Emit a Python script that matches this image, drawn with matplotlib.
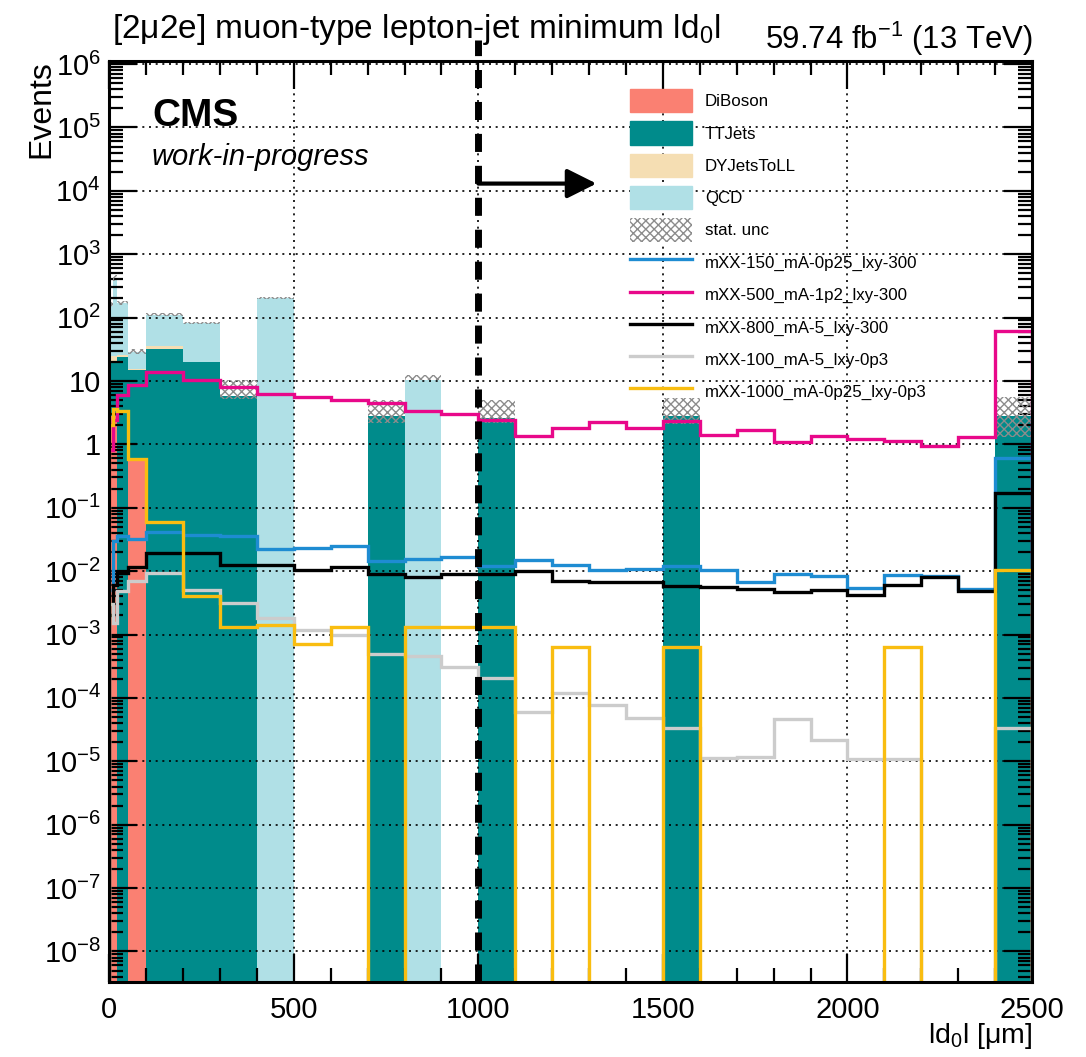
import numpy as np
import matplotlib
matplotlib.use("Agg")
import matplotlib.pyplot as plt
from matplotlib.patches import Patch
from matplotlib.lines import Line2D
from matplotlib.ticker import FixedLocator, FixedFormatter, NullFormatter

plt.rcParams['font.family'] = ['Liberation Sans', 'DejaVu Sans']
plt.rcParams['mathtext.fontset'] = 'custom'
plt.rcParams['mathtext.rm'] = 'Liberation Sans'
plt.rcParams['mathtext.it'] = 'Liberation Sans:italic'
plt.rcParams['mathtext.bf'] = 'Liberation Sans:bold'
plt.rcParams['hatch.linewidth'] = 1.0

# binning in |d0| [um]
bin_edges = [0, 10, 20, 50, 100, 200, 300, 400, 500, 600, 700, 800, 900, 1000,
             1100, 1200, 1300, 1400, 1500, 1600, 1700, 1800, 1900, 2000, 2100,
             2200, 2300, 2400, 2500]

# backgrounds (stacked, bottom -> top)
diboson = [2.8, 2.8, 0, 0.57, 0, 0, 0, 0, 0, 0, 0, 0, 0, 0,
           0, 0, 0, 0, 0, 0, 0, 0, 0, 0, 0, 0, 0, 0]
ttjets = [18, 18, 24, 14.4, 32, 20, 5.8, 0, 0, 0, 2.8, 0, 0, 2.6,
          0, 0, 0, 0, 2.8, 0, 0, 0, 0, 0, 0, 0, 0, 2.85]
dyjets = [4, 4, 2, 0.3, 3, 0, 0, 0, 0, 0, 0, 0, 0, 0,
          0, 0, 0, 0, 0, 0, 0, 0, 0, 0, 0, 0, 0, 0]
qcd = [125, 375, 144, 13.7, 75, 62, 0, 205, 0, 0, 0, 10.5, 0, 0,
       0, 0, 0, 0, 0, 0, 0, 0, 0, 0, 0, 0, 0, 0]

# stat. uncertainty band on the total background
unc_lo = [130, 380, 160, 27, 105, 79, 5.2, 195, 0, 0, 2.2, 10.3, 0, 2.2,
          0, 0, 0, 0, 2.1, 0, 0, 0, 0, 0, 0, 0, 0, 1.3]
unc_hi = [175, 470, 180, 32, 116, 86, 10.2, 215, 0, 0, 5.0, 12.5, 0, 5.0,
          0, 0, 0, 0, 5.3, 0, 0, 0, 0, 0, 0, 0, 0, 5.6]

# signal samples
sig_150_0p25_300 = [0.005, 0.03, 0.036, 0.032, 0.042, 0.037, 0.036, 0.022, 0.0235, 0.0245,
                    0.0147, 0.0155, 0.0166, 0.012, 0.0152, 0.0123, 0.0103, 0.0108, 0.012,
                    0.0105, 0.0067, 0.0091, 0.0085, 0.0054, 0.0086, 0.0083, 0.0053, 0.6]
sig_500_1p2_300 = [0.8, 2.4, 5.9, 8.7, 14, 10.4, 8.1, 6.3, 5.5, 5.0, 4.5, 3.3, 3.0, 2.4,
                   1.37, 1.8, 2.24, 1.8, 2.3, 1.4, 1.7, 1.07, 1.37, 1.2, 1.13, 0.95, 1.32, 62]
sig_800_5_300 = [0.002, 0.006, 0.0093, 0.0118, 0.019, 0.019, 0.0126, 0.0126, 0.0105, 0.0118,
                 0.0091, 0.0082, 0.009, 0.0089, 0.0099, 0.0069, 0.0067, 0.0067, 0.0058,
                 0.0057, 0.0053, 0.0047, 0.005, 0.0042, 0.0061, 0.0082, 0.0049, 0.17]
sig_100_5_0p3 = [0.003, 0.0015, 0.0048, 0.007, 0.0093, 0.0051, 0.0031, 0.0018, 0.00118, 0.001,
                 0.00049, 0.00046, 0.00031, 0.000206, 5.9e-5, 0.00012, 7.7e-5, 4.8e-5, 3.4e-5,
                 1.14e-5, 1.15e-5, 4.7e-5, 2.2e-5, 1.07e-5, 1.1e-5, 0, 0, 3.3e-5]
sig_1000_0p25_0p3 = [2.0, 3.6, 3.3, 0.58, 0.06, 0.004, 0.0013, 0.0014, 0.00072, 0.00133,
                     0, 0.0013, 0.0013, 0.0013, 0, 0.00064, 0, 0, 0.00064, 0, 0, 0, 0, 0,
                     0.00064, 0, 0, 0.0105]

d0_cut = 1000
arrow_end = 1320
arrow_y = 1.3e4

edges = np.array(bin_edges, dtype=float)
floor = 1e-12
ymin, ymax = 3.3e-9, 1.13e6

fig = plt.figure(figsize=(10.86, 10.57), dpi=100)
ax = fig.add_axes([0.1006, 0.0710, 0.8497, 0.8716])

# stacked backgrounds
bkg = [("DiBoson", diboson, "#fa8072"),
       ("TTJets", ttjets, "#008b8b"),
       ("DYJetsToLL", dyjets, "#f5deb3"),
       ("QCD", qcd, "#b0e0e6")]
bottom = np.full(len(edges) - 1, floor)
for name, vals, col in bkg:
    top = bottom + np.array(vals, dtype=float)
    ax.stairs(top, edges, baseline=bottom, fill=True, color=col, lw=0, zorder=2)
    bottom = top

lo = np.array(unc_lo, dtype=float)
hi = np.array(unc_hi, dtype=float)
lo = np.where(hi > 0, lo, floor)
hi = np.where(hi > 0, hi, floor)
ax.stairs(hi, edges, baseline=lo, fill=True, facecolor="none",
          edgecolor="#8c8c8c", hatch="xxxx", lw=0, zorder=3)

signals = [("mXX-150_mA-0p25_lxy-300", sig_150_0p25_300, "#1e8cd2"),
           ("mXX-500_mA-1p2_lxy-300", sig_500_1p2_300, "#e8088a"),
           ("mXX-800_mA-5_lxy-300", sig_800_5_300, "black"),
           ("mXX-100_mA-5_lxy-0p3", sig_100_5_0p3, "#cccccc"),
           ("mXX-1000_mA-0p25_lxy-0p3", sig_1000_0p25_0p3, "#f9bd10")]
for name, vals, col in signals:
    v = np.array(vals, dtype=float)
    ax.stairs(np.where(v > 0, v, floor), edges, color=col, lw=2.4, zorder=4)

# selection cut and direction
ax.plot([d0_cut, d0_cut], [ymin, 2.4e6], color="black", lw=5,
        ls=(0, (2.6, 2.0)), clip_on=False, zorder=6)
ax.annotate("", xy=(arrow_end, arrow_y), xytext=(d0_cut, arrow_y),
            arrowprops=dict(arrowstyle="-|>,head_length=0.9,head_width=0.45",
                            color="black", lw=3, shrinkA=0, shrinkB=0,
                            mutation_scale=20), zorder=6)

ax.set_yscale("log")
ax.set_xlim(0, 2500)
ax.set_ylim(ymin, ymax)

exps = np.arange(-8, 7)
ylabels = []
for e in exps:
    if e == 0:
        ylabels.append("1")
    elif e == 1:
        ylabels.append("10")
    else:
        ylabels.append(r"$10^{%d}$" % e)
ax.yaxis.set_major_locator(FixedLocator(10.0 ** exps))
ax.yaxis.set_major_formatter(FixedFormatter(ylabels))
minor = [m * 10.0 ** e for e in range(-9, 7) for m in range(2, 10)]
ax.yaxis.set_minor_locator(FixedLocator(minor))
ax.yaxis.set_minor_formatter(NullFormatter())

ax.xaxis.set_major_locator(FixedLocator(np.arange(0, 2501, 500)))
ax.xaxis.set_minor_locator(FixedLocator(np.arange(0, 2501, 100)))

ax.tick_params(which="both", direction="in", top=True, right=True,
               width=1.6, labelsize=21, zorder=7)
ax.tick_params(which="major", length=20)
ax.tick_params(which="minor", length=10)
ax.tick_params(axis="x", which="major", pad=10)
ax.tick_params(axis="y", which="major", pad=6)
for sp in ax.spines.values():
    sp.set_linewidth(2.2)
    sp.set_zorder(8)

ax.grid(which="major", color="black", lw=1.2, ls=(0, (1.2, 2.8)), zorder=1)
ax.set_axisbelow(False)

ax.set_ylabel("Events", fontsize=23, loc="top")
ax.yaxis.set_label_coords(-0.0570, 1.0)
ax.set_xlabel("ld$_{0}$l [μm]", fontsize=20.5, loc="right")
ax.xaxis.set_label_coords(1.0, -0.0425)

fig.text(112 / 1086, 1 - 38 / 1057,
         "[2μ2e] muon-type lepton-jet minimum ld$_{0}$l",
         fontsize=24, ha="left", va="baseline")
fig.text(1033 / 1086, 1 - 49 / 1057, "59.74 fb$^{-1}$ (13 TeV)",
         fontsize=22.4, ha="right", va="baseline")
ax.text(0.0463, 0.929, "CMS", transform=ax.transAxes, fontsize=28,
        fontweight="bold", ha="left", va="baseline", zorder=9)
ax.text(0.0463, 0.887, "work-in-progress", transform=ax.transAxes,
        fontsize=21, style="italic", ha="left", va="baseline", zorder=9)

handles = [Patch(facecolor=c, edgecolor=c) for _, _, c in bkg]
labels = [n for n, _, _ in bkg]
handles.append(Patch(facecolor="white", edgecolor="#8c8c8c", hatch="xxxx", lw=0))
labels.append("stat. unc")
for name, _, col in signals:
    handles.append(Line2D([0], [0], color=col, lw=2.4))
    labels.append(name)
leg = fig.legend(handles, labels, loc="upper left",
                 bbox_to_anchor=(630 / 1086, 1 - 89 / 1057),
                 frameon=False, fontsize=12.2, handlelength=3.65,
                 handleheight=1.75, labelspacing=0.525, handletextpad=0.78,
                 borderpad=0, borderaxespad=0)

fig.savefig("out.png", dpi=100)
